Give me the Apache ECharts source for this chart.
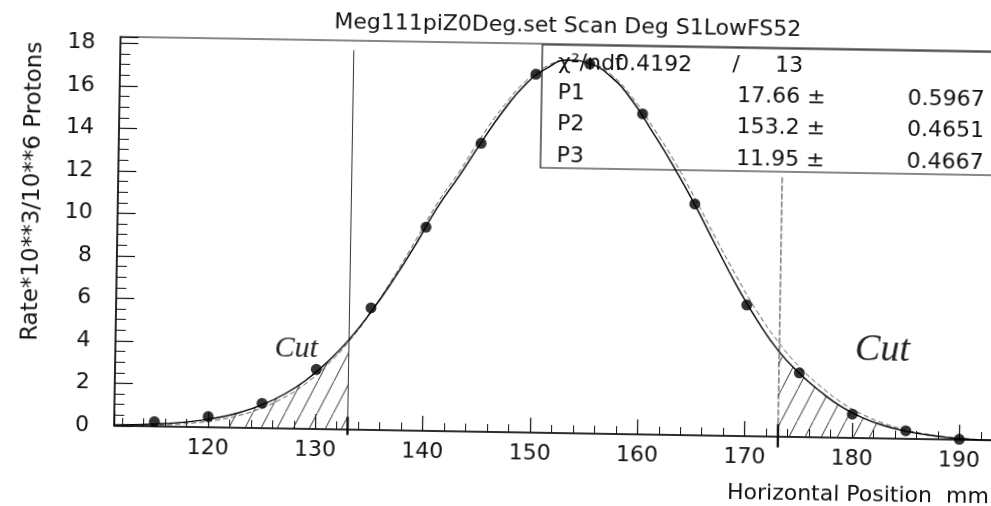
<!DOCTYPE html>
<html>
<head>
<meta charset="utf-8">
<script src="https://cdn.jsdelivr.net/npm/echarts@6/dist/echarts.min.js"></script>
<style>
html, body { margin: 0; padding: 0; background: #fff; overflow: hidden; width: 991px; height: 506px; }
/* the plot runs past the right edge of the page; the scan is tilted about one degree clockwise */
#chart { width: 1050px; height: 506px; transform: rotate(0.95deg); transform-origin: 495.5px 253px; }
</style>
</head>
<body>
<div id="chart"></div>
<script>
// fit curve, every 2 mm
var curveX = [111, 113, 115, 117, 119, 121, 123, 125, 127, 129, 131, 133, 135, 137, 139, 141,
  143, 145, 147, 149, 151, 153, 155, 157, 159, 161, 163, 165, 167, 169, 171, 173,
  175, 177, 179, 181, 183, 185, 187, 189, 191, 193, 195]
var curveY = [0.04, 0.06, 0.11, 0.18, 0.30, 0.47, 0.73, 1.10, 1.60, 2.27, 3.15, 4.23, 5.55, 7.05, 8.70, 10.50,
  12.00, 13.60, 15.10, 16.35, 17.15, 17.55, 17.40, 16.80, 15.70, 14.20, 12.60, 10.85, 8.95, 7.10, 5.45, 4.05,
  3.00, 2.15, 1.45, 0.95, 0.60, 0.36, 0.20, 0.09, 0.03, 0.01, 0.00]
// second (dashed) curve lying almost on top of the first
var curveDashY = [0.02, 0.04, 0.07, 0.12, 0.21, 0.36, 0.60, 0.95, 1.45, 2.12, 3.02, 4.15, 5.55, 7.15, 8.90, 10.70,
  12.20, 13.85, 15.30, 16.50, 17.25, 17.55, 17.45, 16.90, 15.85, 14.45, 12.90, 11.15, 9.30, 7.50, 5.85, 4.45,
  3.30, 2.40, 1.65, 1.10, 0.70, 0.42, 0.23, 0.11, 0.04, 0.01, 0.00]

// measured points
var pointX = [115, 120, 125, 130, 135, 140, 145, 150, 155, 160, 165, 170, 175, 180, 185, 190]
var pointY = [0.22, 0.50, 1.17, 2.81, 5.74, 9.58, 13.57, 16.86, 17.39, 15.08, 10.88, 6.17, 3.02, 1.12, 0.38, 0.02]

// cut positions and how far each cut line runs (data units)
var cutX = [133.0, 173.1]
var cutLow = [-0.25, -0.5]
var cutHigh = [17.85, 12.2]
var hatchLeft = [121, 133]
var hatchRight = [173, 183]

// fit box
var chi2 = '0.4192'
var ndf = '13'
var parNames = ['P1', 'P2', 'P3']
var parValues = ['17.66', '153.2', '11.95']
var parErrors = ['0.5967', '0.4651', '0.4667']

var title = 'Meg111piZ0Deg.set Scan Deg S1LowFS52'
var yName = 'Rate*10**3/10**6 Protons'
var xName = 'Horizontal Position  mm'

var FONT = '"DejaVu Sans", sans-serif'

function pairs(xs, ys) {
  return xs.map(function (x, i) { return [x, ys[i]] })
}

function hatchPattern() {
  var c = document.createElement('canvas')
  c.width = 16
  c.height = 32
  var ctx = c.getContext('2d')
  ctx.strokeStyle = '#333'
  ctx.lineWidth = 1
  ctx.beginPath()
  ctx.moveTo(0, 32)
  ctx.lineTo(16, 0)
  ctx.stroke()
  return c
}

var chart = echarts.init(document.getElementById('chart'), null, { renderer: 'canvas' })
var curve = pairs(curveX, curveY)
var hatch = { image: hatchPattern(), repeat: 'repeat' }

function hatchSeries(range) {
  return {
    type: 'line',
    data: curve.filter(function (p) { return p[0] >= range[0] && p[0] <= range[1] }),
    showSymbol: false,
    silent: true,
    lineStyle: { width: 0 },
    areaStyle: { color: hatch, opacity: 1 },
    z: 1
  }
}

function txt(text, x, y, size, align, extra) {
  var el = {
    type: 'text', x: x, y: y, silent: true,
    style: {
      text: text, font: size + 'px ' + FONT, fill: '#111',
      textAlign: align, align: align, textVerticalAlign: 'middle', verticalAlign: 'middle'
    }
  }
  if (extra) Object.assign(el, extra)
  return el
}

var graphics = [
  txt(title, 564, 25, 22, 'center'),
  txt(yName, 32, 199, 23, 'center', { rotation: Math.PI / 2 }),
  txt(xName, 731, 489, 22, 'left'),
  {
    type: 'rect', silent: true,
    shape: { x: 539, y: 44, width: 500, height: 123 },
    style: { fill: 'none', stroke: '#111', lineWidth: 1.2 }
  },
  txt('χ²/ndf', 555, 62, 22, 'left'),
  txt(chi2, 612, 62, 22, 'left'),
  txt('/', 733, 61, 22, 'center'),
  txt(ndf, 772, 61, 22, 'left')
]
var rowY = [92, 123, 155]
parNames.forEach(function (n, i) {
  graphics.push(txt(n, 555, rowY[i], 22, 'left'))
  graphics.push(txt(parValues[i] + ' ±', 823, rowY[i], 22, 'right'))
  graphics.push(txt(parErrors[i], 905, rowY[i], 22, 'left'))
})
graphics.push({
  type: 'text', x: 298, y: 352, silent: true,
  style: { text: 'Cut', font: 'italic 30px "Liberation Serif", serif', fill: '#222',
    textAlign: 'center', align: 'center', textVerticalAlign: 'middle', verticalAlign: 'middle' }
})
graphics.push({
  type: 'text', x: 884, y: 344, silent: true,
  style: { text: 'Cut', font: 'italic 38px "Liberation Serif", serif', fill: '#222',
    textAlign: 'center', align: 'center', textVerticalAlign: 'middle', verticalAlign: 'middle' }
})

var series = [
  hatchSeries(hatchLeft),
  hatchSeries(hatchRight),
  {
    type: 'line', data: pairs(curveX, curveDashY), smooth: true, showSymbol: false, silent: true,
    lineStyle: { color: '#555', width: 1, type: [5, 3] }, z: 2
  },
  {
    type: 'line', data: curve, smooth: true, showSymbol: false, silent: true,
    lineStyle: { color: '#000', width: 1.4 }, z: 3
  },
  {
    type: 'scatter', data: pairs(pointX, pointY), symbol: 'circle', symbolSize: 11,
    itemStyle: { color: '#000' }, z: 4
  }
]
cutX.forEach(function (x, i) {
  series.push({
    type: 'line', data: [[x, cutLow[i]], [x, cutHigh[i]]], showSymbol: false, silent: true, clip: false,
    lineStyle: { color: '#333', width: 1, type: i === 0 ? 'solid' : [6, 2] }, z: 2
  })
  series.push({
    type: 'line', data: [[x, cutLow[i]], [x, 0.6]], showSymbol: false, silent: true, clip: false,
    lineStyle: { color: '#111', width: 2.4 }, z: 2
  })
})

chart.setOption({
  animation: false,
  backgroundColor: '#fff',
  grid: { left: 117, top: 43, width: 899, height: 389, show: true, borderColor: '#111', borderWidth: 1.2 },
  xAxis: {
    type: 'value', min: 111.25, max: 195, splitNumber: 8,
    axisLine: { show: true, lineStyle: { color: '#111', width: 1.5 } },
    axisTick: { show: true, inside: true, length: 15, lineStyle: { color: '#111', width: 1.2 } },
    minorTick: { show: true, splitNumber: 5, length: 8, lineStyle: { color: '#111', width: 1 } },
    axisLabel: { fontSize: 22, fontFamily: FONT, color: '#111', margin: 10, showMinLabel: false, showMaxLabel: false },
    splitLine: { show: false }, minorSplitLine: { show: false }
  },
  yAxis: {
    type: 'value', min: 0, max: 18.3, interval: 2,
    axisLine: { show: true, lineStyle: { color: '#111', width: 1.5 } },
    axisTick: { show: true, inside: true, length: 18, lineStyle: { color: '#111', width: 1.2 } },
    minorTick: { show: true, splitNumber: 4, length: 10, lineStyle: { color: '#111', width: 1 } },
    axisLabel: { fontSize: 22, fontFamily: FONT, color: '#111', margin: 25, showMaxLabel: false },
    splitLine: { show: false }, minorSplitLine: { show: false }
  },
  graphic: graphics,
  series: series
})
</script>
</body>
</html>
